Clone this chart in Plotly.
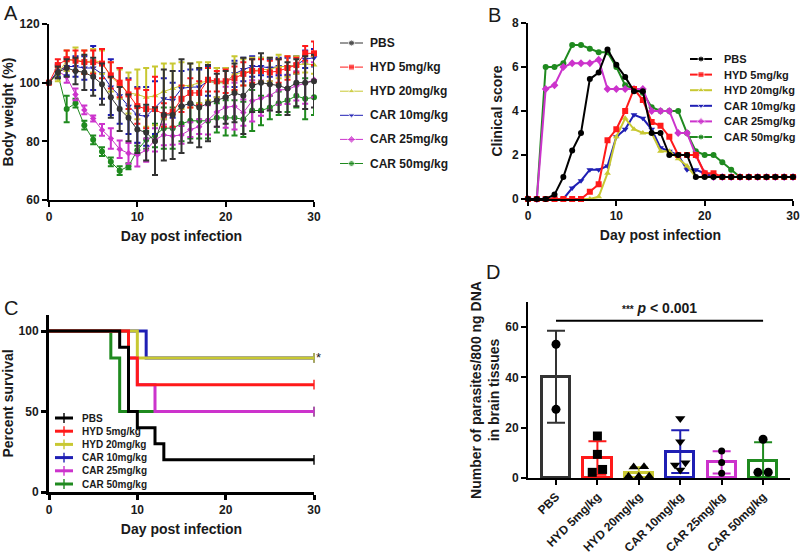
import plotly.graph_objects as go

# ---------------- data ----------------
groups = ["PBS", "HYD 5mg/kg", "HYD 20mg/kg", "CAR 10mg/kg", "CAR 25mg/kg", "CAR 50mg/kg"]
days = list(range(31))

# A: body weight (%) mean and error
bw_pbs = [100, 103.5, 105, 104, 103.5, 102, 99.5, 95, 91, 88, 84, 83, 80, 89, 89, 92, 93, 91.5, 93, 94, 95,
          96.5, 95.5, 99, 100, 99.5, 99, 98, 100, 100, 100.5]
bw_hyd5 = [100, 106, 108, 107.5, 107, 107, 106.5, 102.5, 100, 96, 92, 91, 91, 89, 90, 94.5, 96.5, 96.5, 101,
           100.5, 100.5, 101.5, 103, 104, 104, 103.5, 104, 105, 106, 110, 110]
bw_hyd20 = [100, 103, 107.5, 108, 107, 107.5, 107, 102, 99.5, 96.5, 96, 95, 95.5, 97, 98, 99, 99, 100, 100.5,
            100, 100, 103, 103.5, 104, 104.5, 104.5, 105.5, 105.5, 106, 106.5, 106]
bw_car10 = [100, 104, 105.5, 105.5, 105, 105, 103, 98.5, 95.5, 92, 89, 88.5, 91.5, 94.5, 94, 98, 98.5, 98.5,
            100.5, 100, 100, 103, 104.5, 105.5, 105.5, 105, 105.5, 105.5, 106, 108, 108.5]
bw_car25 = [100, 104, 102, 96, 90.7, 87.8, 83.9, 81, 77.3, 75.9, 75.4, 77, 80.5, 82.2, 81.8, 82.2, 84, 85, 87.3,
            90, 91.6, 92, 89.8, 93.8, 94.7, 95.6, 97.5, 97.7, 98.9, 99.8, 101]
bw_car50 = [100, 103, 91, 93, 85.5, 80.5, 76.5, 73, 70, 71.5, 77, 80.5, 82, 84.5, 84.5, 86, 87, 87, 87, 88, 88,
            88, 87.5, 90.5, 90.5, 91.5, 93, 94, 95.5, 94.5, 95]

err_pbs = [0, 2, 3, 4.5, 6, 6.5, 7, 7, 7.5, 8, 8, 9.5, 11.5, 15.5, 15, 16, 13.5, 13.5, 13, 9, 9, 10, 13, 9, 10,
           9, 9, 9, 8, 9, 9]
err_hyd5 = [0, 2, 3, 3.5, 4, 4, 5, 4.5, 5, 5, 6, 6.5, 11, 4, 5, 4.5, 5, 4, 4, 3.5, 4, 4, 4, 4, 4, 4, 4, 4, 2.5,
            2.5, 4]
err_hyd20 = [0, 2.5, 3.5, 4, 4, 4, 4, 5, 5, 7, 8.5, 10, 10, 9.5, 8.5, 8, 7.5, 7, 6.5, 5, 5, 6, 4.5, 4.5, 4, 4, 4,
             3.5, 3, 3, 3]
err_car10 = [0, 2, 3, 3.5, 4, 7.5, 8.5, 9.5, 9.5, 9.5, 9.5, 10, 9, 7, 6, 6, 6, 6, 5, 5, 5, 4.5, 4, 3.5, 3, 3, 3,
             3, 3, 3, 3]
err_car25 = [0, 2.5, 2, 2, 1.5, 1, 2, 3.5, 3, 3.5, 4, 4, 4, 3.5, 3, 3, 2.5, 2.5, 5, 5, 7, 8, 4.5, 7, 6, 5, 5, 5,
             5, 7, 6]
err_car50 = [0, 1.5, 4.5, 1.5, 1.5, 1.5, 1.5, 1.5, 1.5, 1, 1.5, 3, 4, 7, 7, 6, 6, 6, 6, 5, 6, 6, 6, 7, 5, 4, 4,
             4, 4, 7, 6]

# B: clinical score
cs_pbs = [0, 0, 0, 0.2, 1, 2.2, 3, 5.45, 5.75, 6.8, 6.1, 5.55, 4.9, 4.9, 3, 3, 2, 2, 2, 1, 1, 1, 1, 1, 1, 1, 1,
          1, 1, 1, 1]
cs_hyd5 = [0, 0, 0, 0, 0, 0, 0, 0.33, 0.67, 2.67, 3.17, 4, 5, 4.5, 3.5, 3.33, 2.83, 2, 2, 2, 1.17, 1.17, 1, 1,
           1, 1, 1, 1, 1, 1, 1]
cs_hyd20 = [0, 0, 0, 0, 0, 0, 0, 0, 0.1, 1.17, 2.83, 3.67, 3.17, 3, 3, 2.17, 2.17, 1.83, 1.5, 1, 1, 1, 1, 1, 1,
            1, 1, 1, 1, 1, 1]
cs_car10 = [0, 0, 0, 0, 0, 0.5, 0.83, 1.33, 1.33, 1.5, 2.83, 3.17, 3.83, 3.67, 3.17, 2.33, 2.17, 2, 1.33, 1.33,
            1.17, 1, 1, 1, 1, 1, 1, 1, 1, 1, 1]
cs_car25 = [0, 0, 5, 5.17, 6, 6.17, 6.17, 6.17, 6.33, 5, 5, 5, 5, 5, 4, 4, 4, 3, 3, 2, 1.17, 1, 1, 1, 1, 1, 1,
            1, 1, 1, 1]
cs_car50 = [0, 0, 6, 6, 6.17, 7, 7, 6.83, 6.67, 6.67, 6, 5.17, 5, 4.83, 4.17, 4, 4, 4, 3, 2.17, 2, 2, 1.67,
            1.33, 1, 1, 1, 1, 1, 1, 1]

# C: survival (step curves)
sv_days_pbs = [0, 8, 9, 10, 12, 13, 30]
sv_pbs = [100, 90, 50, 40, 30, 20, 20]
sv_days_hyd5 = [0, 9, 10, 30]
sv_hyd5 = [100, 83.3, 66.7, 66.7]
sv_days_hyd20 = [0, 10, 30]
sv_hyd20 = [100, 83.3, 83.3]
sv_days_car10 = [0, 11, 30]
sv_car10 = [100, 83.3, 83.3]
sv_days_car25 = [0, 9, 10, 12, 30]
sv_car25 = [100, 83.3, 66.7, 50, 50]
sv_days_car50 = [0, 7, 8, 30]
sv_car50 = [100, 83.3, 50, 50]

# D: parasites / 800 ng DNA, individual mice
par_pbs = [53.2, 27.3]
par_hyd5 = [16.7, 9.4, 2.25, 3.4]
par_hyd20 = [4.5, 4.4, 0.65, 0.65, 0.65]
par_car10 = [23.7, 14.4, 6.1, 5.2, 3.2]
par_car25 = [10.7, 6.2, 1.85]
par_car50 = [15.4, 2.25, 2.3]

# ---------------- style ----------------
colors = ["#333333", "#ff1a1a", "#c8c832", "#1f1fb4", "#cc33cc", "#1f8a1f"]
colorsB = ["#000000"] + colors[1:]
symbolsA = ["circle", "square", "triangle-up", "triangle-down", "diamond", "circle"]
symbolsD = ["circle", "square", "triangle-up", "triangle-down", "circle", "circle"]
FONT = "Liberation Sans, Arial, sans-serif"
INK = "#1a1a1a"

bw = [bw_pbs, bw_hyd5, bw_hyd20, bw_car10, bw_car25, bw_car50]
errs = [err_pbs, err_hyd5, err_hyd20, err_car10, err_car25, err_car50]
cs = [cs_pbs, cs_hyd5, cs_hyd20, cs_car10, cs_car25, cs_car50]
sv_x = [sv_days_pbs, sv_days_hyd5, sv_days_hyd20, sv_days_car10, sv_days_car25, sv_days_car50]
sv_y = [sv_pbs, sv_hyd5, sv_hyd20, sv_car10, sv_car25, sv_car50]
par = [par_pbs, par_hyd5, par_hyd20, par_car10, par_car25, par_car50]

fig = go.Figure()

# A - PBS drawn last so it sits on top
for i in [5, 4, 3, 2, 1, 0]:
    fig.add_trace(go.Scatter(
        x=days, y=bw[i], name=groups[i], mode="lines+markers", xaxis="x", yaxis="y",
        line=dict(color=colors[i], width=1),
        marker=dict(symbol=symbolsA[i], size=6 if i != 4 else 5, color=colors[i]),
        error_y=dict(type="data", array=errs[i], color=colors[i], thickness=2, width=3),
        showlegend=False, cliponaxis=False))

# B
for i in [5, 4, 3, 2, 1, 0]:
    fig.add_trace(go.Scatter(
        x=days, y=cs[i], name=groups[i], mode="lines+markers", xaxis="x2", yaxis="y2",
        line=dict(color=colorsB[i], width=2),
        marker=dict(symbol=symbolsA[i], size=6, color=colorsB[i]),
        showlegend=False, cliponaxis=False))

# C - drawing order bottom -> top
for i in [5, 4, 3, 2, 1, 0]:
    n = len(sv_x[i])
    fig.add_trace(go.Scatter(
        x=sv_x[i], y=sv_y[i], name=groups[i], mode="lines+markers", xaxis="x3", yaxis="y3",
        line=dict(color=colorsB[i], width=3, shape="hv"),
        marker=dict(symbol="line-ns", size=[0] * (n - 1) + [7],
                    line=dict(color=colorsB[i], width=2)),
        showlegend=False, cliponaxis=False))


# D - bars (mean, SD) with the individual mice spread sideways
def spread(vals, tol=1.5, step=0.25):
    order = sorted(range(len(vals)), key=lambda k: vals[k])
    offs = [0.0] * len(vals)
    clusters, cur = [], [order[0]]
    for k in order[1:]:
        if abs(vals[k] - vals[cur[-1]]) <= tol:
            cur.append(k)
        else:
            clusters.append(cur)
            cur = [k]
    clusters.append(cur)
    for c in clusters:
        for j, k in enumerate(c):
            offs[k] = (j - (len(c) - 1) / 2) * step
    return offs


for i in range(6):
    v = par[i]
    m = sum(v) / len(v)
    sd = (sum((t - m) ** 2 for t in v) / (len(v) - 1)) ** 0.5
    fig.add_trace(go.Bar(
        x=[i], y=[m], width=0.68, xaxis="x4", yaxis="y4", showlegend=False,
        marker=dict(color="white", line=dict(color=colors[i], width=3)),
        error_y=dict(type="data", array=[sd], color=colors[i], thickness=2, width=9)))
for i in range(6):
    v = par[i]
    fig.add_trace(go.Scatter(
        x=[i + o for o in spread(v)], y=v, mode="markers", xaxis="x4", yaxis="y4",
        showlegend=False, cliponaxis=False,
        marker=dict(symbol=symbolsD[i], size=9 if i != 4 else 7, color="black")))

# ---------------- hand-made legends on a pixel overlay ----------------
legend_font = []
# (x of line start, line length, text x, first row y, row step, font size, style)
legend_specs = [
    (340, 23, 368, 43, 24.1, 12, "A"),
    (690, 22, 722, 59, 15.6, 11, "B"),
    (55, 18, 80, 418, 13.2, 10, "C"),
]
for x0, ln, tx, y0, step, fs, kind in legend_specs:
    for i in range(6):
        yy = y0 + i * step
        if kind == "C":
            fig.add_trace(go.Scatter(
                x=[x0, x0 + ln / 2, x0 + ln], y=[yy] * 3, mode="lines+markers", xaxis="x5", yaxis="y5",
                line=dict(color=colorsB[i], width=3), showlegend=False, hoverinfo="skip",
                marker=dict(symbol="line-ns", size=[0, 7, 0], line=dict(color=colorsB[i], width=2))))
        else:
            c = colors[i] if kind == "A" else colorsB[i]
            fig.add_trace(go.Scatter(
                x=[x0, x0 + ln / 2, x0 + ln], y=[yy] * 3, mode="lines+markers", xaxis="x5", yaxis="y5",
                line=dict(color=c, width=1 if kind == "A" else 2), showlegend=False, hoverinfo="skip",
                marker=dict(symbol=symbolsA[i], size=[0, 6, 0], color=c)))
        legend_font.append(dict(text=groups[i], x=tx, y=yy, xref="x5", yref="y5", xanchor="left",
                                yanchor="middle", showarrow=False,
                                font=dict(family=FONT, size=fs, color=INK, weight="bold")))

# ---------------- layout ----------------
tickfont = dict(family=FONT, size=12, color=INK, weight="bold")
titlefont = dict(family=FONT, size=14, color=INK, weight="bold")


def ax(domain, rng, anchor, width=2, **kw):
    d = dict(domain=domain, range=rng, anchor=anchor, showgrid=False, zeroline=False, automargin=False,
             showline=True, linecolor="black", linewidth=width, ticks="outside",
             ticklen=5, tickwidth=width, tickcolor="black", tickfont=tickfont)
    d.update(kw)
    return d


dayaxis = dict(tickvals=[0, 10, 20, 30], title=dict(text="Day post infection", font=titlefont, standoff=8))

fig.update_layout(
    width=800, height=557, margin=dict(l=0, r=0, t=0, b=0, autoexpand=False),
    paper_bgcolor="white", plot_bgcolor="rgba(0,0,0,0)", bargap=0, showlegend=False,
    font=dict(family=FONT, color=INK),
    xaxis=ax([49 / 800, 314 / 800], [0, 30], "y", **dayaxis),
    yaxis=ax([1 - 200 / 557, 1 - 24 / 557], [60, 120], "x", tickvals=[60, 80, 100, 120],
             title=dict(text="Body weight (%)", font=titlefont, standoff=6)),
    xaxis2=ax([528 / 800, 793 / 800], [0, 30], "y2", **dayaxis),
    yaxis2=ax([1 - 199 / 557, 1 - 23 / 557], [0, 8], "x2", tickvals=[0, 2, 4, 6, 8],
              title=dict(text="Clinical score", font=titlefont, standoff=6)),
    xaxis3=ax([49 / 800, 314 / 800], [0, 30], "y3", width=3, **dayaxis),
    yaxis3=ax([1 - 492 / 557, 1 - 315 / 557], [0, 110], "x3", width=3, tickvals=[0, 50, 100],
              title=dict(text="Percent survival", font=titlefont, standoff=6)),
    xaxis4=ax([528 / 800, 790 / 800], [-0.676, 5.65], "y4", tickvals=list(range(6)),
              ticktext=groups, tickangle=-45),
    yaxis4=ax([1 - 478 / 557, 1 - 302 / 557], [0, 70], "x4", tickvals=[0, 20, 40, 60],
              title=dict(text="Number of parasites/800 ng DNA<br>in brain tissues", font=titlefont,
                         standoff=2)),
    xaxis5=dict(domain=[0, 1], range=[0, 800], anchor="y5", visible=False, fixedrange=True),
    yaxis5=dict(domain=[0, 1], range=[557, 0], anchor="x5", visible=False, fixedrange=True),
    shapes=[dict(type="line", xref="x4", yref="y4", x0=0, x1=5, y0=62.5, y1=62.5,
                 line=dict(color="black", width=2))],
    annotations=legend_font + [
        dict(text="A", x=2 / 800, y=1, xref="paper", yref="paper", xanchor="left", yanchor="top",
             showarrow=False, font=dict(family=FONT, size=20, color=INK)),
        dict(text="B", x=486 / 800, y=1 - 2 / 557, xref="paper", yref="paper", xanchor="left",
             yanchor="top", showarrow=False, font=dict(family=FONT, size=20, color=INK)),
        dict(text="C", x=2 / 800, y=1 - 295 / 557, xref="paper", yref="paper", xanchor="left",
             yanchor="top", showarrow=False, font=dict(family=FONT, size=20, color=INK)),
        dict(text="D", x=484 / 800, y=1 - 259 / 557, xref="paper", yref="paper", xanchor="left",
             yanchor="top", showarrow=False, font=dict(family=FONT, size=20, color=INK)),
        dict(text="*", x=1.034, y=sv_hyd20[-1], xref="x3 domain", yref="y3", showarrow=False,
             yanchor="middle", font=dict(family=FONT, size=13, color=INK)),
        dict(text="<span style='font-size:10px'>***</span> <i>p</i> < 0.001", x=2.5, y=63.5,
             xref="x4", yref="y4", yanchor="bottom", showarrow=False,
             font=dict(family=FONT, size=14, color=INK, weight="bold")),
    ],
)

# page body has an 8px default margin; drop it so the figure fills the window
fig.write_html("out.html", config={"displayModeBar": False},
               post_script="document.body.style.margin='0';")
